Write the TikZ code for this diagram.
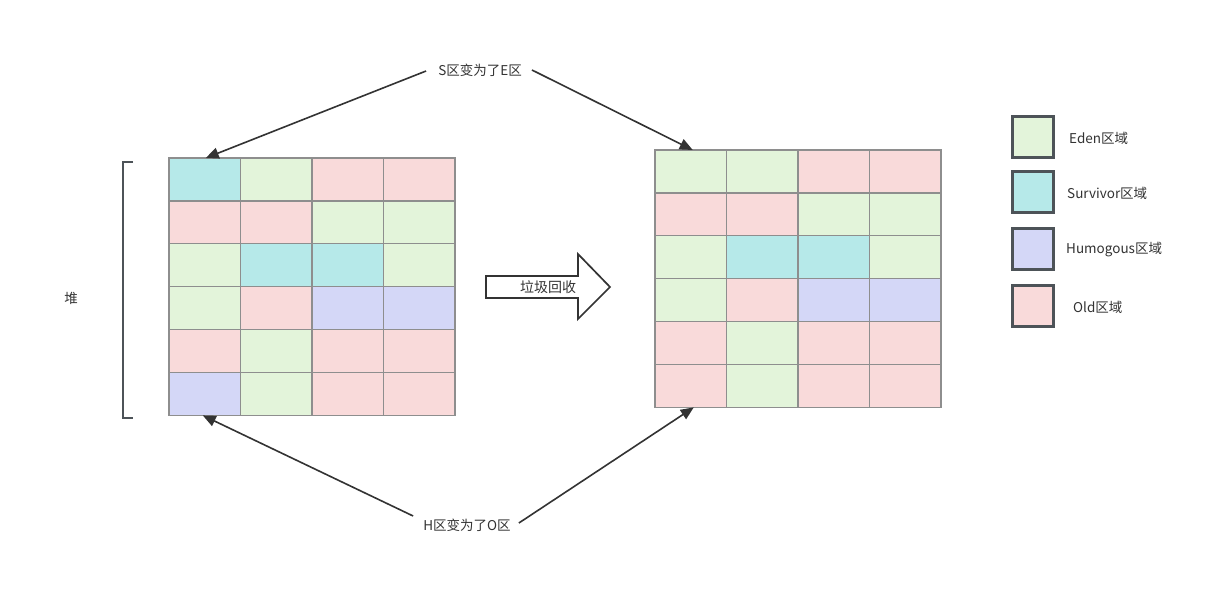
\documentclass[tikz,border=0pt]{standalone}
\usepackage{fontspec}
\setmainfont{Noto Sans CJK SC}
\usetikzlibrary{arrows.meta}
\definecolor{cE}{HTML}{E3F4DA}
\definecolor{cS}{HTML}{B6E9E9}
\definecolor{cH}{HTML}{D4D7F7}
\definecolor{cO}{HTML}{F9DADA}
\definecolor{gridgray}{HTML}{8E8E8E}
\definecolor{legborder}{HTML}{4D5358}
\definecolor{txt}{HTML}{333333}
\tikzset{
  cell/.style={draw=gridgray, line width=1.2pt, minimum width=71.5pt, minimum height=42.9pt, inner sep=0pt, outer sep=0pt},
  legbox/.style={draw=legborder, line width=2.2pt, minimum width=41pt, minimum height=41pt, inner sep=0pt},
  lbl/.style={text=txt, font=\fontsize{13.5}{15}\selectfont, inner sep=2pt},
  conn/.style={draw=txt, line width=1.6pt, -{Triangle[length=13pt,width=11pt]}},
}
\newcommand\gridrow[5]{%
  \foreach \c [count=\j] in {#5} {%
    \node[cell, fill=c\c] (#1#2\j) at ({#3+(\j-0.5)*71.5}, {#4+(#2-0.5)*42.9}) {};
  }%
}
\begin{document}
\begin{tikzpicture}[x=1pt,y=-1pt]
\useasboundingbox[fill=white] (0,0) rectangle (1209,595);
% left grid
\gridrow{L}{1}{169}{158}{S,E,O,O}
\gridrow{L}{2}{169}{158}{O,O,E,E}
\gridrow{L}{3}{169}{158}{E,S,S,E}
\gridrow{L}{4}{169}{158}{E,O,H,H}
\gridrow{L}{5}{169}{158}{O,E,O,O}
\gridrow{L}{6}{169}{158}{H,E,O,O}
% right grid
\gridrow{R}{1}{655}{150}{E,E,O,O}
\gridrow{R}{2}{655}{150}{O,O,E,E}
\gridrow{R}{3}{655}{150}{E,S,S,E}
\gridrow{R}{4}{655}{150}{E,O,H,H}
\gridrow{R}{5}{655}{150}{O,E,O,O}
\gridrow{R}{6}{655}{150}{O,E,O,O}
% bracket
\draw[draw=legborder, line width=1.6pt] (133,162) -- (123,162) -- (123,418) -- (133,418);
\node[lbl] (heap) at (71,298) {堆};
% labels
\node[lbl] (top) at (480,70) {S区变为了E区};
\node[lbl] (bot) at (467,525) {H区变为了O区};
\draw[conn] (top.west) ++(-10,1) coordinate (t1) -- ([xshift=1pt]L11.north);
\draw[conn] (top.east) ++(8,0) coordinate (t2) -- ([xshift=2pt]R11.north);
\draw[conn] (bot.west) ++(-8,-9) coordinate (b1) -- ([xshift=-2pt]L61.south);
\draw[conn] (bot.east) ++(6,-2) coordinate (b2) -- ([xshift=3pt]R61.south);
% block arrow
\draw[draw=txt, line width=1.7pt, fill=white] (486,276) -- (578,276) -- (578,254) -- (610,287) -- (578,319) -- (578,298) -- (486,298) -- cycle;
\node[lbl, font=\fontsize{14}{15}\selectfont] (gc) at (548,287) {垃圾回收};
% legend
\node[legbox, fill=cE] (lE) at (1033,137) {};
\node[legbox, fill=cS] (lS) at (1033,192) {};
\node[legbox, fill=cH] (lH) at (1033,249) {};
\node[legbox, fill=cO] (lO) at (1033,306) {};
\node[lbl, anchor=west] (tE) at (1067,138) {Eden区域};
\node[lbl, anchor=west] (tS) at (1065,193) {Survivor区域};
\node[lbl, anchor=west] (tH) at (1064,250) {Humogous区域};
\node[lbl, anchor=west] (tO) at (1071,307) {Old区域};
\end{tikzpicture}
\end{document}
